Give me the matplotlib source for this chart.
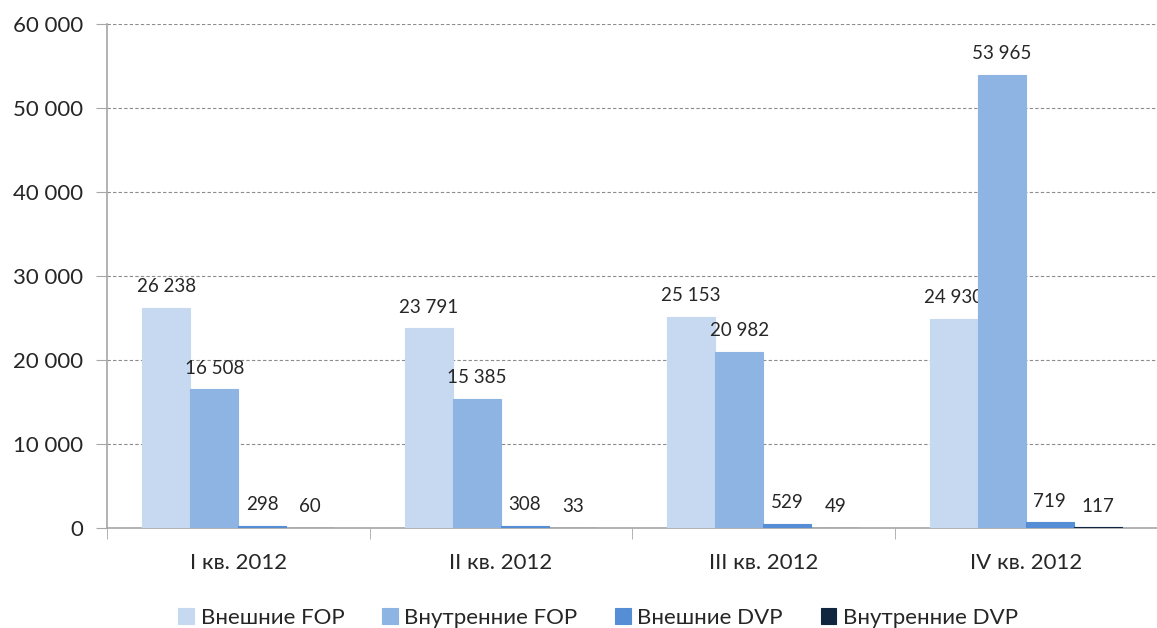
import matplotlib
matplotlib.use("Agg")
import matplotlib.pyplot as plt
import numpy as np

# data
categories = ["I кв. 2012", "II кв. 2012", "III кв. 2012", "IV кв. 2012"]
series_names = ["Внешние FOP", "Внутренние FOP", "Внешние DVP", "Внутренние DVP"]
vneshnie_fop = [26238, 23791, 25153, 24930]
vnutrennie_fop = [16508, 15385, 20982, 53965]
vneshnie_dvp = [298, 308, 529, 719]
vnutrennie_dvp = [60, 33, 49, 117]
yticks = [0, 10000, 20000, 30000, 40000, 50000, 60000]

series = [vneshnie_fop, vnutrennie_fop, vneshnie_dvp, vnutrennie_dvp]
colors = ["#C6D9F1", "#8EB4E3", "#558ED5", "#10253F"]

plt.rcParams['font.family'] = ['Lato', 'DejaVu Sans']
txt = "#262626"
grau = "#A6A6A6"

def fmt(v):
    return "{:,}".format(int(v)).replace(",", " ")

fig = plt.figure(figsize=(11.57, 6.28), dpi=100)
ax = fig.add_axes([0.0925, 0.159, 0.9075, 0.803])

x = np.arange(len(categories))
w = 0.183
for i, (vals, col, name) in enumerate(zip(series, colors, series_names)):
    pos = x + (i - 1.5) * w
    # thin edge so the tiny DVP bars stay visible like in the original
    bars = ax.bar(pos, vals, width=w, color=col, label=name, zorder=3,
                  edgecolor=col, linewidth=0.8)
    for b, v in zip(bars, vals):
        ax.annotate(fmt(v), (b.get_x() + b.get_width() / 2, v), xytext=(0, 9),
                    textcoords="offset points", ha="center", va="bottom",
                    fontsize=13.5, color=txt)

ax.set_xlim(-0.5, 3.462)
ax.set_ylim(0, 60000)
ax.set_yticks(yticks)
ax.set_yticklabels([fmt(t) for t in yticks], fontsize=16, color=txt)
ax.yaxis.grid(True, linestyle=(0, (3, 2)), color="#8C8C8C", linewidth=0.8, zorder=0)

ax.set_xticks(x)
ax.set_xticklabels(categories, fontsize=16, color=txt)
ax.tick_params(axis="x", length=0, pad=18)
ax.set_xticks(np.arange(-0.5, 3.6, 1), minor=True)
ax.tick_params(axis="x", which="minor", length=8, color=grau, direction="out")
ax.tick_params(axis="y", length=8, color=grau, pad=9)

for s in ["top", "right"]:
    ax.spines[s].set_visible(False)
ax.spines["left"].set_color(grau)
ax.spines["bottom"].set_color(grau)
ax.spines["left"].set_linewidth(1.2)
ax.spines["bottom"].set_linewidth(1.2)

fig.legend(loc="center", bbox_to_anchor=(0.517, 0.016), ncol=4, frameon=False,
           fontsize=16, handlelength=0.7, handleheight=0.7, handletextpad=0.3,
           columnspacing=1.7, labelcolor=txt)

fig.savefig("out.png", dpi=100)
